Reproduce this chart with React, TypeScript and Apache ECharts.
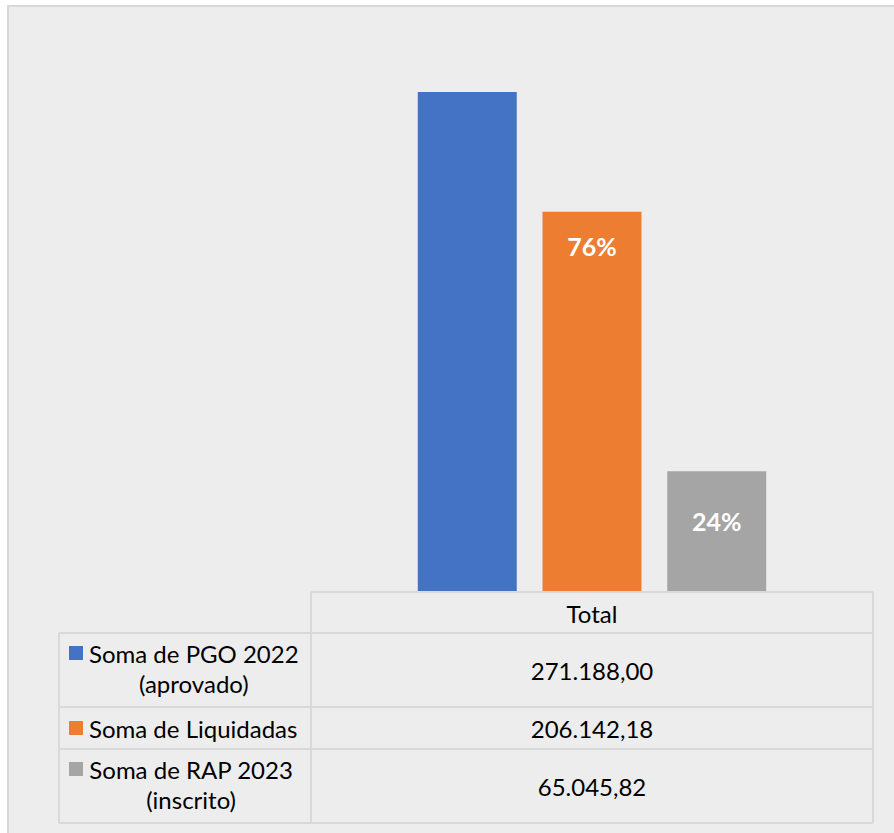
import React, { useEffect, useRef } from "react";
import * as echarts from "echarts";

const categories = ["Total"];
const seriesNames = ["Soma de PGO 2022\n(aprovado)", "Soma de Liquidadas", "Soma de RAP 2023\n(inscrito)"];
const seriesValues = [271188.0, 206142.18, 65045.82];
const seriesColors = ["#4472C4", "#ED7D31", "#A5A5A5"];
const labelOffsets = [0, 34, 50];

const FONT = "Lato, 'Noto Sans', sans-serif";

function fmtBR(v: number): string {
  const [i, d] = v.toFixed(2).split(".");
  return i.replace(/\B(?=(\d{3})+(?!\d))/g, ".") + "," + d;
}

export default function App() {
  const ref = useRef<HTMLDivElement>(null);
  useEffect(() => {
    if (!ref.current) return;
    const chart = echarts.init(ref.current, null, { renderer: "svg" });

    const gridLeft = 311;
    const gridRight = 873;
    const gridTop = 39;
    const gridBottom = 591;
    const lineColor = "#D9D9D9";
    const rowYs = [633, 707, 749, 823];
    const tableFont = `24px ${FONT}`;

    const graphics: any[] = [];
    graphics.push({
      type: "rect",
      z: -10,
      shape: { x: 8, y: 6, width: 920, height: 860 },
      style: { fill: "#EDEDED", stroke: "#D9D9D9", lineWidth: 2 },
    });
    const hl = (x1: number, x2: number, y: number) =>
      graphics.push({ type: "line", z: 10, shape: { x1, y1: y, x2, y2: y }, style: { stroke: lineColor, lineWidth: 2 } });
    const vl = (x: number, y1: number, y2: number) =>
      graphics.push({ type: "line", z: 10, shape: { x1: x, y1, x2: x, y2 }, style: { stroke: lineColor, lineWidth: 2 } });
    hl(gridLeft, gridRight, gridBottom + 1);
    rowYs.forEach((y) => hl(59, gridRight, y));
    vl(59, rowYs[0], rowYs[3]);
    vl(gridLeft, gridBottom + 1, rowYs[3]);
    vl(gridRight, gridBottom + 1, rowYs[3]);

    const colCenter = (gridLeft + gridRight) / 2;
    graphics.push({
      type: "text",
      z: 11,
      x: colCenter,
      y: (gridBottom + rowYs[0]) / 2 + 1,
      style: { text: categories[0], font: tableFont, fill: "#000", align: "center", verticalAlign: "middle" },
    });

    seriesNames.forEach((name, i) => {
      const top = rowYs[i];
      const bottom = rowYs[i + 1];
      const cy = (top + bottom) / 2;
      const lines = name.split("\n");
      const widths = lines.map(
        (l) => new (echarts.graphic as any).Text({ style: { text: l, font: tableFont } }).getBoundingRect().width
      );
      const blockW = Math.max(...widths);
      const textLeft = 89;
      const nameY = lines.length > 1 ? cy - 2 : cy;
      graphics.push({
        type: "text",
        z: 11,
        x: textLeft + blockW / 2,
        y: nameY,
        style: { text: name, font: tableFont, fill: "#000", align: "center", verticalAlign: "middle", lineHeight: 30 },
      });
      const keyCY = lines.length > 1 ? nameY - 15 : nameY;
      graphics.push({
        type: "rect",
        z: 11,
        shape: { x: 69, y: keyCY - 7, width: 14, height: 14 },
        style: { fill: seriesColors[i] },
      });
      graphics.push({
        type: "text",
        z: 11,
        x: colCenter,
        y: cy,
        style: { text: fmtBR(seriesValues[i]), font: tableFont, fill: "#000", align: "center", verticalAlign: "middle" },
      });
    });

    const total = seriesValues[0];
    chart.setOption({
      animation: false,
      grid: { left: gridLeft, right: 894 - gridRight, top: gridTop, bottom: 833 - gridBottom, containLabel: false },
      xAxis: {
        type: "category",
        data: categories,
        axisLine: { show: false },
        axisTick: { show: false },
        axisLabel: { show: false },
      },
      yAxis: {
        type: "value",
        min: 0,
        max: 300000,
        show: false,
        splitLine: { show: false },
      },
      series: seriesNames.map((name, i) => ({
        type: "bar",
        name: name.replace("\n", " "),
        data: [seriesValues[i]],
        barGap: "26%",
        barCategoryGap: "38%",
        itemStyle: { color: seriesColors[i] },
        label: {
          show: i > 0,
          position: ["50%", labelOffsets[i]],
          align: "center",
          verticalAlign: "middle",
          color: "#FFFFFF",
          fontFamily: FONT,
          fontWeight: "bold",
          fontSize: 25,
          formatter: (p: any) => Math.round((p.value / total) * 100) + "%",
        },
      })),
      graphic: { elements: graphics },
    });
    return () => chart.dispose();
  }, []);
  return (
    <div
      ref={ref}
      style={{ position: "absolute", left: 0, top: 0, width: 894, height: 833, background: "#FFFFFF" }}
    />
  );
}
